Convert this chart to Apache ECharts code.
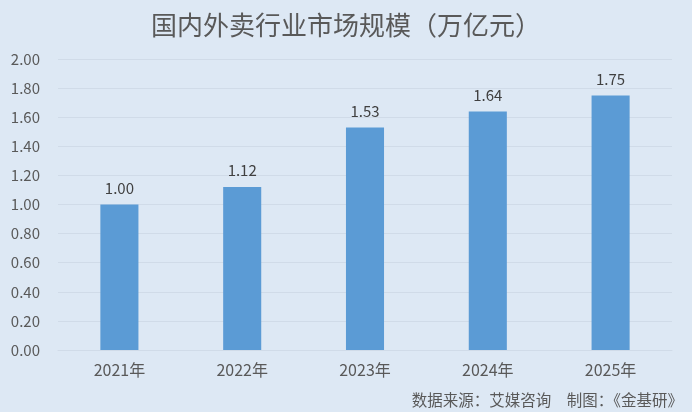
<!DOCTYPE html>
<html><head><meta charset="utf-8">
<script src="https://cdn.jsdelivr.net/npm/echarts@6/dist/echarts.min.js"></script>
<style>html,body{margin:0;padding:0;background:#dde8f4;}#c{width:692px;height:412px;}</style>
</head><body><div id="c"></div>
<script>
var categories = ['2021年','2022年','2023年','2024年','2025年'];
var values = [1.00, 1.12, 1.53, 1.64, 1.75];
var titleText = '国内外卖行业市场规模（万亿元）';
var sourceText = '数据来源：艾媒咨询　制图：《金基研》';
var font = '"Microsoft YaHei","Noto Sans CJK SC",sans-serif';
var chart = echarts.init(document.getElementById('c'));
chart.setOption({
  backgroundColor: '#dde8f4',
  animation: false,
  title: [{
    text: titleText, left: 'center', top: 7,
    textStyle: {fontFamily: font, fontSize: 26, fontWeight: 'normal', color: '#595959'}
  }, {
    text: sourceText, right: 4, top: 387,
    textStyle: {fontFamily: font, fontSize: 15.5, fontWeight: 'normal', color: '#595959'}
  }],
  grid: {left: 58, right: 20, top: 59, bottom: 62},
  xAxis: {
    type: 'category', data: categories,
    axisLine: {show: true, lineStyle: {color: '#d0dbe8'}},
    axisTick: {show: false},
    axisLabel: {fontFamily: font, fontSize: 16, color: '#595959', margin: 12}
  },
  yAxis: {
    type: 'value', min: 0, max: 2, interval: 0.2,
    axisLine: {show: false}, axisTick: {show: false},
    axisLabel: {fontFamily: font, fontSize: 15, color: '#595959', margin: 18,
      formatter: function(v){return v.toFixed(2);}},
    splitLine: {lineStyle: {color: '#d0dbe8'}}
  },
  series: [{
    type: 'bar', data: values, barWidth: '31%',
    itemStyle: {color: '#5b9bd5'},
    label: {show: true, position: 'top', distance: 9, fontFamily: font, fontSize: 15, color: '#404040',
      formatter: function(p){return p.value.toFixed(2);}}
  }]
});
</script></body></html>
